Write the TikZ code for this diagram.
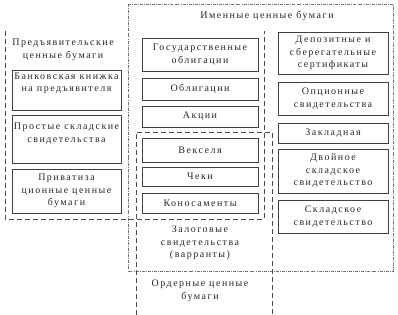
\documentclass[tikz,border=0pt]{standalone}
\usepackage{fontspec}
\setmainfont[LetterSpace=15]{Liberation Serif}
\begin{document}
\begin{tikzpicture}[x=1pt,y=-1pt,
  box/.style={draw=black!75, line width=0.7pt, rectangle, inner sep=0pt, align=center,
    font=\fontsize{10}{12.5}\selectfont, text=black!85},
  lbl/.style={align=center, font=\fontsize{10}{12.5}\selectfont, inner sep=0pt, text=black!85},
  grp/.style={draw=black!70, line width=0.7pt, dash pattern=on 5pt off 3pt},
  grpdd/.style={draw=black!55, line width=0.6pt, dash pattern=on 3pt off 1.2pt on 0.7pt off 1.2pt}]
\useasboundingbox (0,0) rectangle (398,315);
% group frames
\draw[grpdd] (128,4) rectangle (393,271);
\draw[grp] (5,31) -- (5,219) -- (264,219) -- (264,31);
\draw[grp] (136,315) -- (136,132) -- (272,132) -- (272,315);
% group labels
\node[lbl] (imen) at (267,16) {Именные ценные бумаги};
\node[lbl] (pred) at (63,50) {Предъявительские\\ценные бумаги};
\node[lbl] (zalog) at (200,243) {Залоговые\\свидетельства\\(варранты)};
\node[lbl] (order) at (200,291) {Ордерные ценные\\бумаги};
% left column
\node[box, minimum width=109pt, minimum height=40pt] (bank) at (66.5,90) {};
\node[lbl] (bankt) at (66.5,83.5) {Банковская книжка\\на предъявителя};
\node[box, minimum width=109pt, minimum height=48pt] (prost) at (66.5,139) {};
\node[lbl] (prostt) at (66.5,133.5) {Простые складские\\свидетельства};
\node[box, minimum width=109pt, minimum height=44pt] (priv) at (66.5,191) {Приватиза\\ционные ценные\\бумаги};
% middle column
\node[box, minimum width=116pt, minimum height=33pt] (gos) at (200,54.5) {Государственные\\облигации};
\node[box, minimum width=116pt, minimum height=22pt] (obl) at (200,89) {Облигации};
\node[box, minimum width=116pt, minimum height=21pt] (akc) at (200,116.5) {Акции};
\node[box, minimum width=116pt, minimum height=24pt] (veks) at (200,150) {Векселя};
\node[box, minimum width=116pt, minimum height=19pt] (cheki) at (200,176.5) {Чеки};
\node[box, minimum width=116pt, minimum height=20pt] (kono) at (200,203) {Коносаменты};
% right column
\node[box, minimum width=110pt, minimum height=42pt] (depo) at (333,53) {Депозитные и\\сберегательные\\сертификаты};
\node[box, minimum width=110pt, minimum height=33pt] (opc) at (333,98.5) {Опционные\\свидетельства};
\node[box, minimum width=110pt, minimum height=20pt] (zakl) at (333,133) {Закладная};
\node[box, minimum width=110pt, minimum height=44pt] (dvoin) at (333,171) {Двойное\\складское\\свидетельство};
\node[box, minimum width=110pt, minimum height=33pt] (sklad) at (333,216.5) {Складское\\свидетельство};
\end{tikzpicture}
\end{document}
